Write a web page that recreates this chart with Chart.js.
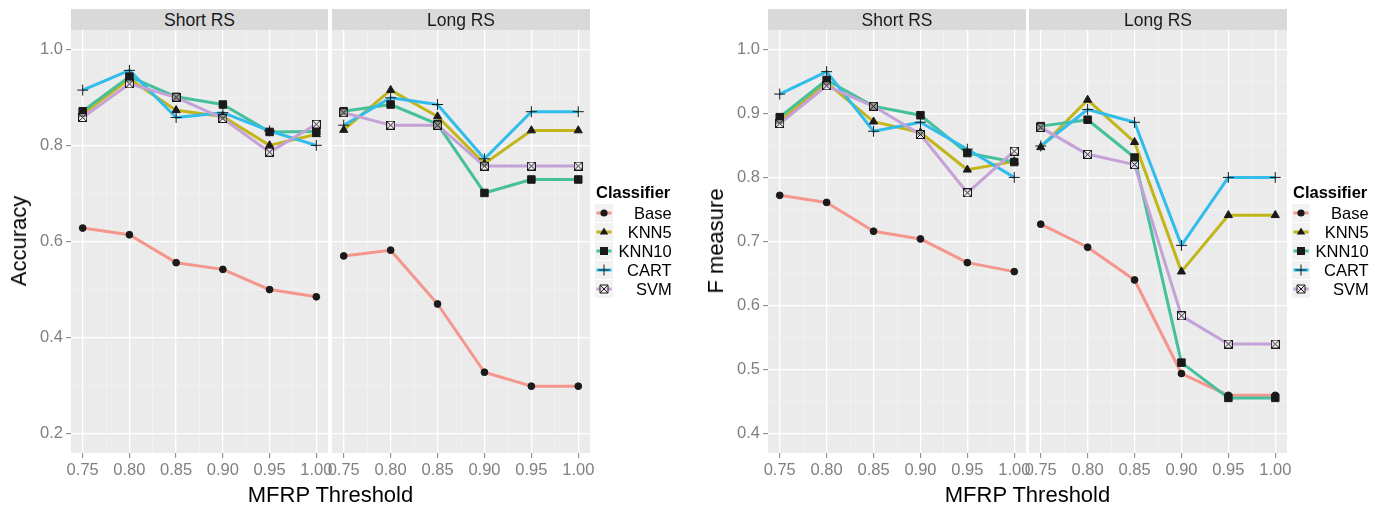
<!DOCTYPE html>
<html><head><meta charset="utf-8">
<script src="https://cdn.jsdelivr.net/npm/chart.js@4.4.1/dist/chart.umd.min.js"></script>
<style>
body{margin:0;background:#fff;width:1383px;height:508px;overflow:hidden;position:relative;font-family:"Liberation Sans",Arial,Helvetica,sans-serif;}
canvas{position:absolute;top:0;}
.strip{position:absolute;top:9px;height:21px;background:#D9D9D9;color:#1A1A1A;font-size:17.5px;line-height:22px;text-align:center;}
.ytitle{position:absolute;font-size:22px;color:#000;white-space:nowrap;transform:translate(-50%,-50%) rotate(-90deg);}
.xtitle{position:absolute;font-size:22px;color:#000;white-space:nowrap;transform:translate(-50%,-50%);}
.lgtitle{position:absolute;font-weight:bold;font-size:16.5px;line-height:19px;color:#000;}
.lgkey{position:absolute;width:18px;height:18px;}
.lglab{position:absolute;font-size:16.5px;line-height:19px;color:#000;text-align:right;width:60px;}
</style>
</head><body>
<script>
// ---------- data ----------
const thresholds = [0.75, 0.80, 0.85, 0.90, 0.95, 1.00];
const classifiers = ['Base', 'KNN5', 'KNN10', 'CART', 'SVM'];
const facets = ['Short RS', 'Long RS'];

const accShortBase  = [0.628, 0.614, 0.556, 0.542, 0.500, 0.485];
const accShortKNN5  = [0.865, 0.938, 0.873, 0.860, 0.800, 0.823];
const accShortKNN10 = [0.871, 0.943, 0.901, 0.885, 0.828, 0.829];
const accShortCART  = [0.915, 0.956, 0.858, 0.868, 0.830, 0.800];
const accShortSVM   = [0.858, 0.928, 0.900, 0.856, 0.786, 0.844];

const accLongBase  = [0.570, 0.582, 0.470, 0.328, 0.299, 0.299];
const accLongKNN5  = [0.832, 0.915, 0.860, 0.762, 0.831, 0.831];
const accLongKNN10 = [0.871, 0.885, 0.844, 0.701, 0.729, 0.729];
const accLongCART  = [0.842, 0.899, 0.885, 0.772, 0.870, 0.870];
const accLongSVM   = [0.868, 0.842, 0.842, 0.757, 0.757, 0.757];

const fShortBase  = [0.772, 0.761, 0.716, 0.704, 0.667, 0.653];
const fShortKNN5  = [0.888, 0.948, 0.887, 0.870, 0.812, 0.825];
const fShortKNN10 = [0.894, 0.952, 0.911, 0.897, 0.838, 0.824];
const fShortCART  = [0.930, 0.965, 0.872, 0.886, 0.844, 0.800];
const fShortSVM   = [0.884, 0.943, 0.911, 0.867, 0.776, 0.841];

const fLongBase  = [0.727, 0.691, 0.640, 0.494, 0.460, 0.460];
const fLongKNN5  = [0.847, 0.921, 0.855, 0.653, 0.741, 0.741];
const fLongKNN10 = [0.880, 0.890, 0.831, 0.511, 0.456, 0.456];
const fLongCART  = [0.849, 0.906, 0.886, 0.694, 0.800, 0.800];
const fLongSVM   = [0.878, 0.836, 0.820, 0.584, 0.540, 0.540];

const xTicks = [0.75, 0.80, 0.85, 0.90, 0.95, 1.00];
const xMinor = [0.775, 0.825, 0.875, 0.925, 0.975];
const accTicks = [0.2, 0.4, 0.6, 0.8, 1.0];
const accMinor = [0.3, 0.5, 0.7, 0.9];
const fTicks = [0.4, 0.5, 0.6, 0.7, 0.8, 0.9, 1.0];
const fMinor = [0.45, 0.55, 0.65, 0.75, 0.85, 0.95];

// ---------- style ----------
const colors = ['#F5968D', '#C2B51C', '#45C09B', '#30BDEB', '#C4A1D7'];
const FONT = '"Liberation Sans", Arial, Helvetica, sans-serif';
const INK = '#1A1A1A';

function svmMarker() {
  const c = document.createElement('canvas');
  c.width = 9; c.height = 9;
  const g = c.getContext('2d');
  g.fillStyle = 'rgba(255,255,255,0.55)';
  g.fillRect(0.5, 0.5, 8, 8);
  g.strokeStyle = INK; g.lineWidth = 1;
  g.strokeRect(0.5, 0.5, 8, 8);
  g.beginPath(); g.moveTo(0.5, 0.5); g.lineTo(8.5, 8.5); g.moveTo(8.5, 0.5); g.lineTo(0.5, 8.5); g.stroke();
  return c;
}
const markers = [
  {style: 'circle', r: 3.4},
  {style: 'triangle', r: 4.7},
  {style: 'rect', r: 5.3},
  {style: 'cross', r: 5.5},
  {style: svmMarker(), r: 4.5}
];

const panelBg = {
  id: 'panelBg',
  beforeDraw(chart) {
    const a = chart.chartArea, ctx = chart.ctx;
    ctx.save(); ctx.fillStyle = '#EBEBEB';
    ctx.fillRect(a.left, a.top, a.right - a.left, a.bottom - a.top);
    ctx.restore();
  }
};

function makePanel(panelLeft, panelRight, seriesList, yMin, yMax, yMajor, yMinorArr, showY) {
  const cv = document.createElement('canvas');
  const padL = 60, padR = 22;
  cv.width = panelRight - panelLeft + padL + padR;
  cv.height = 508;
  cv.style.left = (panelLeft - padL) + 'px';
  document.body.appendChild(cv);
  const datasets = [];
  seriesList.forEach((vals, i) => {
    const pts = thresholds.map((t, k) => ({x: t, y: vals[k]}));
    datasets.push({
      label: classifiers[i] + ' line', data: pts, borderColor: colors[i], borderWidth: 3,
      pointRadius: 0, fill: false, tension: 0, order: 20 - i, borderJoinStyle: 'round'
    });
    datasets.push({
      label: classifiers[i], data: pts, showLine: false, pointStyle: markers[i].style,
      pointRadius: markers[i].r, pointBackgroundColor: INK, pointBorderColor: INK,
      pointBorderWidth: 1, order: 10 - i
    });
  });
  const isMinorX = v => xMinor.some(m => Math.abs(m - v) < 1e-9);
  const isMinorY = v => yMinorArr.some(m => Math.abs(m - v) < 1e-9);
  return new Chart(cv, {
    type: 'line',
    data: {datasets},
    plugins: [panelBg],
    options: {
      responsive: false, animation: false, devicePixelRatio: 1, events: [],
      layout: {padding: {top: 30, right: padR, left: 0, bottom: 0}},
      plugins: {legend: {display: false}, tooltip: {enabled: false}},
      scales: {
        x: {
          type: 'linear', min: 0.7375, max: 1.0125,
          afterBuildTicks: s => { s.ticks = xTicks.concat(xMinor).sort((a, b) => a - b).map(v => ({value: v})); },
          afterFit: s => { s.height = 55; },
          border: {display: false},
          grid: {
            color: c => isMinorX(c.tick.value) ? '#F4F4F4' : '#FFFFFF',
            lineWidth: c => isMinorX(c.tick.value) ? 0.7 : 1.3,
            tickColor: c => isMinorX(c.tick.value) ? 'rgba(0,0,0,0)' : '#808080',
            tickLength: 5, tickWidth: 1
          },
          ticks: {
            autoSkip: false, maxRotation: 0, minRotation: 0, padding: 3,
            color: '#808080', font: {family: FONT, size: 16.5},
            callback: v => isMinorX(v) ? '' : v.toFixed(2)
          }
        },
        y: {
          type: 'linear', min: yMin, max: yMax,
          afterBuildTicks: s => { s.ticks = yMajor.concat(yMinorArr).sort((a, b) => a - b).map(v => ({value: v})); },
          afterFit: s => { s.width = padL; },
          border: {display: false},
          grid: {
            color: c => isMinorY(c.tick.value) ? '#F4F4F4' : '#FFFFFF',
            lineWidth: c => isMinorY(c.tick.value) ? 0.7 : 1.3,
            tickColor: c => isMinorY(c.tick.value) ? 'rgba(0,0,0,0)' : '#808080',
            drawTicks: showY, tickLength: 5, tickWidth: 1
          },
          ticks: {
            display: showY, autoSkip: false, padding: 3,
            color: '#808080', font: {family: FONT, size: 16.5},
            callback: v => isMinorY(v) ? '' : v.toFixed(1)
          }
        }
      }
    }
  });
}

makePanel(71, 328, [accShortBase, accShortKNN5, accShortKNN10, accShortCART, accShortSVM], 0.16, 1.04, accTicks, accMinor, true);
makePanel(332, 590, [accLongBase, accLongKNN5, accLongKNN10, accLongCART, accLongSVM], 0.16, 1.04, accTicks, accMinor, false);
makePanel(768, 1026, [fShortBase, fShortKNN5, fShortKNN10, fShortCART, fShortSVM], 0.37, 1.03, fTicks, fMinor, true);
makePanel(1029, 1287, [fLongBase, fLongKNN5, fLongKNN10, fLongCART, fLongSVM], 0.37, 1.03, fTicks, fMinor, false);

// ---------- text: strips, titles, legends ----------
function addDiv(cls, text, css) {
  const d = document.createElement('div');
  d.className = cls; d.textContent = text;
  Object.assign(d.style, css);
  document.body.appendChild(d);
  return d;
}
[[71, 328], [332, 590], [768, 1026], [1029, 1287]].forEach((p, i) => {
  addDiv('strip', facets[i % 2], {left: p[0] + 'px', width: (p[1] - p[0]) + 'px'});
});
addDiv('ytitle', 'Accuracy', {left: '19px', top: '241px'});
addDiv('ytitle', 'F measure', {left: '716px', top: '241px'});
addDiv('xtitle', 'MFRP Threshold', {left: '330.5px', top: '495px'});
addDiv('xtitle', 'MFRP Threshold', {left: '1027.5px', top: '495px'});

function legendKey(i) {
  const NS = 'http://www.w3.org/2000/svg';
  const svg = document.createElementNS(NS, 'svg');
  svg.setAttribute('width', 18); svg.setAttribute('height', 18);
  const bg = document.createElementNS(NS, 'rect');
  bg.setAttribute('x', 0); bg.setAttribute('y', 0); bg.setAttribute('width', 18); bg.setAttribute('height', 18);
  bg.setAttribute('fill', '#F2F2F2'); svg.appendChild(bg);
  const ln = document.createElementNS(NS, 'line');
  ln.setAttribute('x1', 1.5); ln.setAttribute('x2', 16.5); ln.setAttribute('y1', 9); ln.setAttribute('y2', 9);
  ln.setAttribute('stroke', colors[i]); ln.setAttribute('stroke-width', 3); svg.appendChild(ln);
  let m;
  if (i === 0) { m = document.createElementNS(NS, 'circle'); m.setAttribute('cx', 9); m.setAttribute('cy', 9); m.setAttribute('r', 3.6); m.setAttribute('fill', INK); }
  else if (i === 1) { m = document.createElementNS(NS, 'polygon'); m.setAttribute('points', '9,4.6 13.2,11.6 4.8,11.6'); m.setAttribute('fill', INK); }
  else if (i === 2) { m = document.createElementNS(NS, 'rect'); m.setAttribute('x', 5); m.setAttribute('y', 5); m.setAttribute('width', 8); m.setAttribute('height', 8); m.setAttribute('fill', INK); }
  else if (i === 3) { m = document.createElementNS(NS, 'path'); m.setAttribute('d', 'M3.5,9 H14.5 M9,3.5 V14.5'); m.setAttribute('stroke', INK); m.setAttribute('stroke-width', 1); }
  else { m = document.createElementNS(NS, 'path'); m.setAttribute('d', 'M5,5 H13 V13 H5 Z M5,5 L13,13 M13,5 L5,13'); m.setAttribute('stroke', INK); m.setAttribute('stroke-width', 1); m.setAttribute('fill', 'rgba(255,255,255,0.55)'); }
  svg.appendChild(m);
  return svg;
}
[596, 1293].forEach(lx => {
  addDiv('lgtitle', 'Classifier', {left: lx + 'px', top: '183px'});
  classifiers.forEach((name, i) => {
    const cy = 213.3 + 19 * i;
    const k = document.createElement('div');
    k.className = 'lgkey';
    Object.assign(k.style, {left: (lx - 1) + 'px', top: (cy - 9) + 'px'});
    k.appendChild(legendKey(i));
    document.body.appendChild(k);
    addDiv('lglab', name, {left: (lx + 75.7 - 60) + 'px', top: (cy - 9.5) + 'px'});
  });
});
</script>
</body></html>
